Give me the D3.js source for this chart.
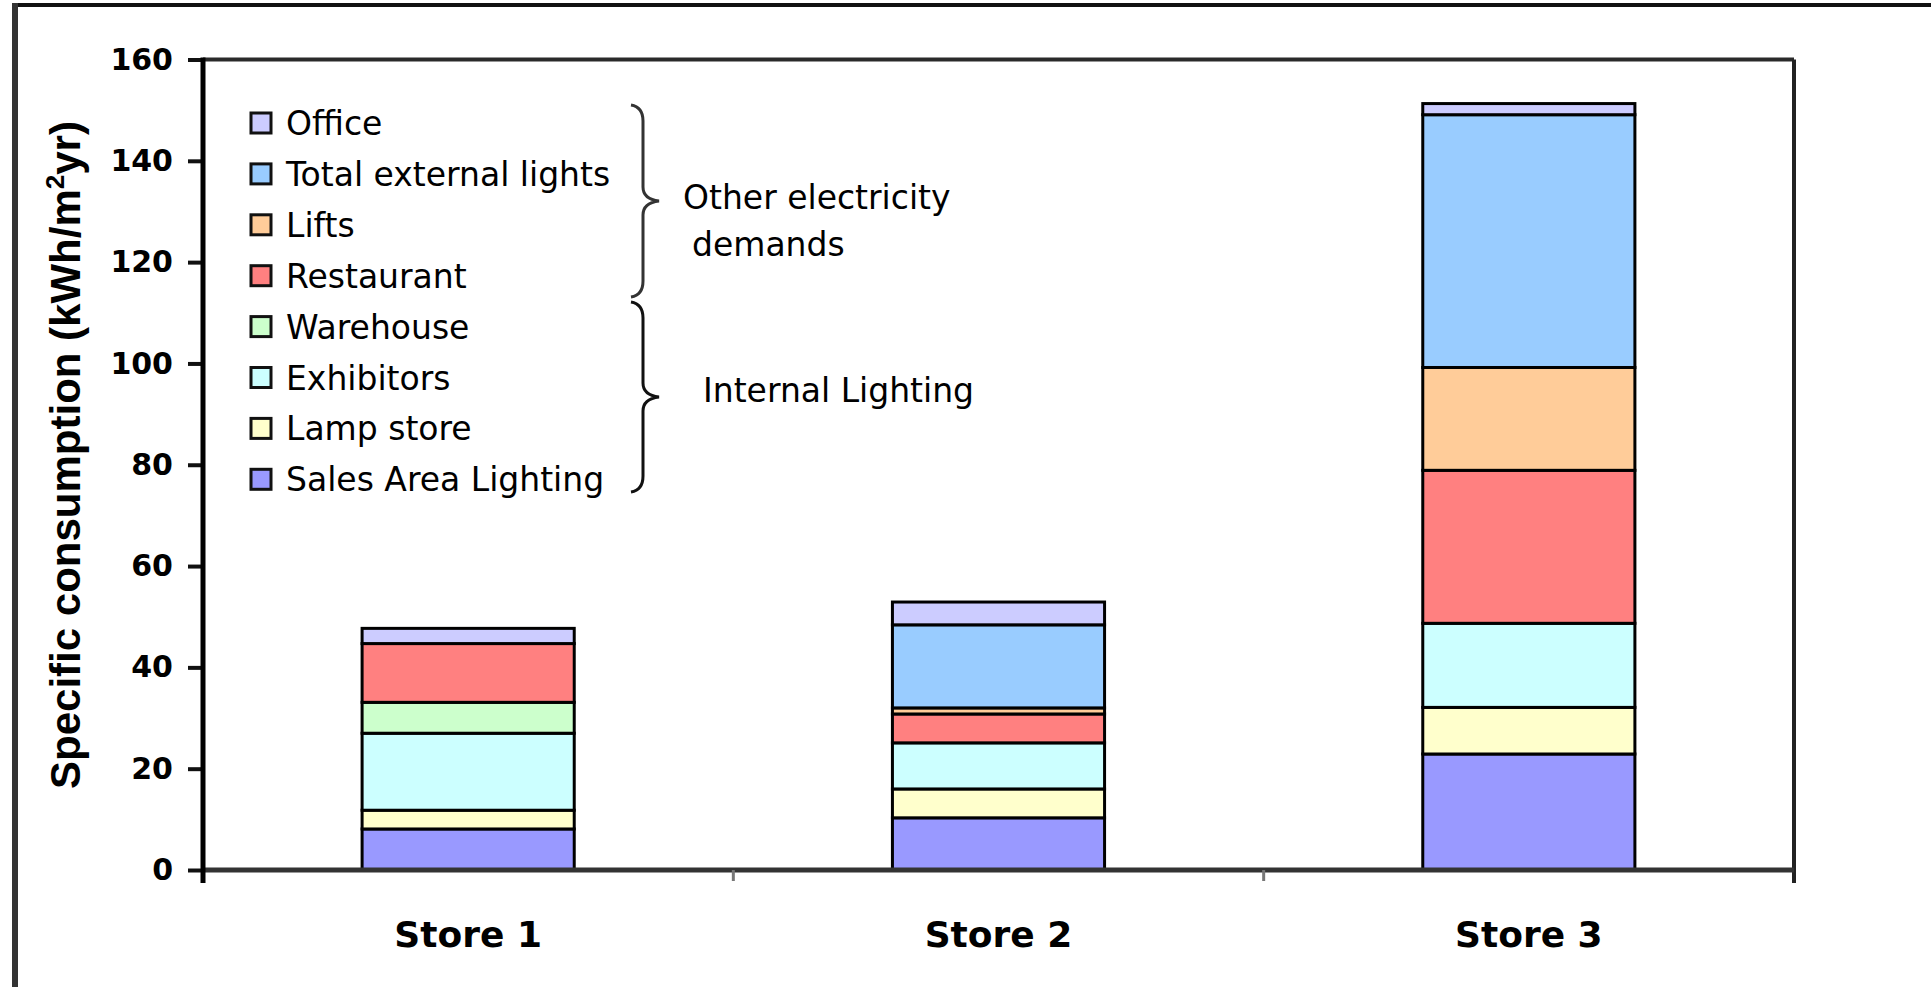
<!DOCTYPE html>
<html>
<head>
<meta charset="utf-8">
<script src="https://cdn.jsdelivr.net/npm/d3@7"></script>
<style>
  body { margin: 0; background: #fff; }
  svg { display: block; }
</style>
</head>
<body>
<svg id="chart"></svg>
<script>
// values (kWh/m2yr)
const stores = ["Store 1", "Store 2", "Store 3"];
const seriesNames = ["Sales Area Lighting", "Lamp store", "Exhibitors", "Warehouse",
                     "Restaurant", "Lifts", "Total external lights", "Office"];
const salesArea = [8.1, 10.3, 22.9];
const lampStore = [3.7, 5.7, 9.2];
const exhibitors = [15.2, 9.1, 16.6];
const warehouse = [6.1, 0, 0];
const restaurant = [11.6, 5.7, 30.2];
const lifts = [0, 1.2, 20.3];
const externalLights = [0, 16.4, 49.9];
const office = [3.0, 4.5, 2.2];
const yTicks = [0, 20, 40, 60, 80, 100, 120, 140, 160];

const seriesValues = [salesArea, lampStore, exhibitors, warehouse,
                      restaurant, lifts, externalLights, office];
const colors = ["#9999ff", "#ffffcc", "#ccffff", "#ccffcc",
                "#ff8080", "#ffcc99", "#99ccff", "#ccccff"];

var svgWidth = 1931;
var svgHeight = 987;
var margin = {top: 59.5, right: 137, bottom: 117, left: 203};
var width = svgWidth - margin.left - margin.right;
var height = svgHeight - margin.top - margin.bottom;

var svg = d3.select("#chart")
    .attr("width", svgWidth)
    .attr("height", svgHeight);

// outer frame (top and left edges only are visible)
svg.append("line").attr("x1", 15).attr("x2", svgWidth).attr("y1", 5).attr("y2", 5)
    .attr("stroke", "#111").attr("stroke-width", 4);
svg.append("line").attr("x1", 15).attr("x2", 15).attr("y1", 3).attr("y2", svgHeight)
    .attr("stroke", "#333").attr("stroke-width", 6);

var g = svg.append("g")
    .attr("transform", "translate(" + margin.left + "," + margin.top + ")");

var x = d3.scaleBand().domain(stores).range([0, width]).padding(0);
var y = d3.scaleLinear().domain([0, 160]).range([height, 0]);

// rows for the stack
var rows = stores.map(function(s, i) {
    var r = {store: s};
    seriesNames.forEach(function(n, k) { r[n] = seriesValues[k][i]; });
    return r;
});
var stacked = d3.stack().keys(seriesNames)(rows);

var barW = x.bandwidth() * 0.4;

// plot box: top and right border
g.append("line").attr("x1", 0).attr("x2", width).attr("y1", 0).attr("y2", 0)
    .attr("stroke", "#2a2a2a").attr("stroke-width", 4);
g.append("line").attr("x1", width).attr("x2", width).attr("y1", 0).attr("y2", height + 13)
    .attr("stroke", "#222").attr("stroke-width", 4);

// bars
stacked.forEach(function(layer, k) {
    g.append("g")
        .selectAll("rect")
        .data(layer.filter(function(d) { return d[1] - d[0] > 0; }))
        .enter().append("rect")
        .attr("x", function(d) { return x(d.data.store) + (x.bandwidth() - barW) / 2; })
        .attr("y", function(d) { return y(d[1]); })
        .attr("width", barW)
        .attr("height", function(d) { return y(d[0]) - y(d[1]); })
        .attr("fill", colors[k])
        .attr("stroke", "#000")
        .attr("stroke-width", 3);
});

// x axis line and category separators
g.append("line").attr("x1", 0).attr("x2", width).attr("y1", height).attr("y2", height)
    .attr("stroke", "#333").attr("stroke-width", 5);
var seps = stores.slice(1).map(function(s) { return x(s); });
g.selectAll(".sep").data(seps).enter().append("line")
    .attr("class", "sep")
    .attr("x1", function(d) { return d; }).attr("x2", function(d) { return d; })
    .attr("y1", height).attr("y2", height + 11)
    .attr("stroke", "#777").attr("stroke-width", 3);

g.selectAll(".store-label").data(stores).enter().append("text")
    .attr("class", "store-label")
    .attr("x", function(d) { return x(d) + x.bandwidth() / 2; })
    .attr("y", height + 77)
    .attr("text-anchor", "middle")
    .attr("font-family", "DejaVu Sans")
    .attr("font-weight", "bold")
    .attr("font-size", 36)
    .attr("fill", "#000")
    .text(function(d) { return d; });

// y axis
var yAxis = g.append("g")
    .call(d3.axisLeft(y).tickValues(yTicks).tickSize(15).tickPadding(15));
yAxis.select(".domain").remove();
yAxis.selectAll(".tick line").attr("stroke", "#111").attr("stroke-width", 4);
yAxis.selectAll(".tick text")
    .attr("font-family", "DejaVu Sans")
    .attr("font-weight", "bold")
    .attr("font-size", 30)
    .attr("fill", "#000");
g.append("line").attr("x1", 0).attr("x2", 0).attr("y1", -2).attr("y2", height + 13)
    .attr("stroke", "#000").attr("stroke-width", 5);

// y axis title
var title = svg.append("text")
    .attr("transform", "translate(80,455) rotate(-90)")
    .attr("text-anchor", "middle")
    .attr("font-family", "Liberation Sans")
    .attr("font-weight", "bold")
    .attr("font-size", 42)
    .attr("fill", "#000");
title.append("tspan").text("Specific consumption (kWh/m");
title.append("tspan").attr("font-size", 26).attr("dy", -16).text("2");
title.append("tspan").attr("dy", 16).text("yr)");

// legend, top entry is Office
var legendOrder = seriesNames.slice().reverse();
var legendColors = colors.slice().reverse();
var legend = svg.append("g").attr("transform", "translate(251,123)");
legendOrder.forEach(function(name, i) {
    var row = legend.append("g").attr("transform", "translate(0," + (i * 50.9) + ")");
    row.append("rect")
        .attr("x", 0).attr("y", -10).attr("width", 20).attr("height", 20)
        .attr("fill", legendColors[i]).attr("stroke", "#111").attr("stroke-width", 3);
    row.append("text")
        .attr("x", 35).attr("y", 12)
        .attr("font-family", "DejaVu Sans")
        .attr("font-size", 33)
        .attr("fill", "#000")
        .text(name);
});

// curly braces grouping the legend
function brace(top, bottom, xs) {
    var mid = (top + bottom) / 2;
    var p = d3.path();
    p.moveTo(xs - 12, top);
    p.quadraticCurveTo(xs, top + 2, xs, top + 16);
    p.lineTo(xs, mid - 14);
    p.quadraticCurveTo(xs, mid - 2, xs + 16, mid);
    p.quadraticCurveTo(xs, mid + 2, xs, mid + 14);
    p.lineTo(xs, bottom - 16);
    p.quadraticCurveTo(xs, bottom - 2, xs - 12, bottom);
    return p.toString();
}
svg.append("path").attr("d", brace(105, 297, 643))
    .attr("fill", "none").attr("stroke", "#333").attr("stroke-width", 3);
svg.append("path").attr("d", brace(302, 492, 643))
    .attr("fill", "none").attr("stroke", "#111").attr("stroke-width", 3);

var noteStyle = function(t) {
    return t.attr("font-family", "DejaVu Sans").attr("font-size", 33).attr("fill", "#000");
};
noteStyle(svg.append("text").attr("x", 683).attr("y", 209).text("Other electricity"));
noteStyle(svg.append("text").attr("x", 692).attr("y", 256).text("demands"));
noteStyle(svg.append("text").attr("x", 703).attr("y", 402).text("Internal Lighting"));
</script>
</body>
</html>
